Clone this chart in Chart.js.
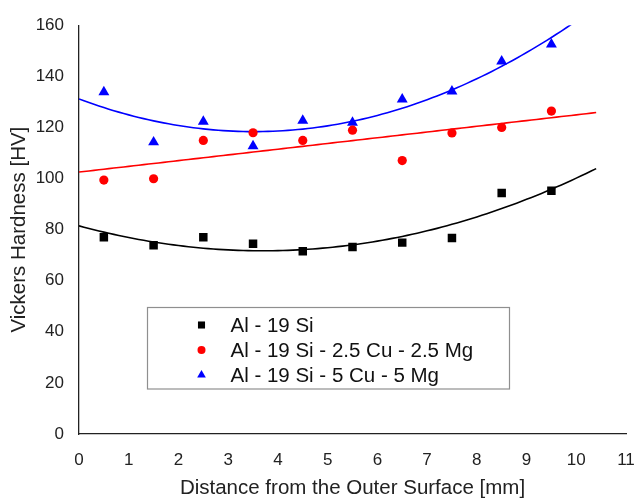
<!DOCTYPE html>
<html>
<head>
<meta charset="utf-8">
<title>Vickers Hardness</title>
<script src="https://cdn.jsdelivr.net/npm/chart.js@4.4.0/dist/chart.umd.min.js"></script>
<style>
  body { margin: 0; background: #fff; }
  #wrap { width: 635px; height: 502px; }
</style>
</head>
<body>
<div id="wrap"><canvas id="hardnessChart" width="635" height="502"></canvas></div>
<script>
// distance of each measurement from the outer surface (mm)
const distances = [0.5, 1.5, 2.5, 3.5, 4.5, 5.5, 6.5, 7.5, 8.5, 9.5];

const alloyNames = ["Al - 19 Si", "Al - 19 Si - 2.5 Cu - 2.5 Mg", "Al - 19 Si - 5 Cu - 5 Mg"];

// hardness readings (HV)
const hvAlSi = [77.0, 73.9, 77.0, 74.5, 71.5, 73.2, 74.9, 76.7, 94.3, 95.2];
const hvCuMg25 = [99.4, 99.9, 114.9, 117.9, 114.9, 118.9, 107.0, 117.8, 120.0, 126.4];
const hvCuMg5 = [133.8, 114.2, 122.3, 112.7, 122.7, 121.9, 131.0, 134.1, 145.9, 152.5];

const xTicks = [0, 1, 2, 3, 4, 5, 6, 7, 8, 9, 10, 11];
const yTicks = [0, 20, 40, 60, 80, 100, 120, 140, 160];

// least squares polynomial fit (degree 1 or 2), returns coefficients c0..cn
function polyFit(xs, ys, degree) {
  const n = degree + 1;
  const A = [];
  for (let r = 0; r < n; r++) {
    A.push([]);
    for (let c = 0; c <= n; c++) A[r].push(0);
  }
  xs.forEach((x, i) => {
    for (let r = 0; r < n; r++) {
      for (let c = 0; c < n; c++) A[r][c] += Math.pow(x, r + c);
      A[r][n] += ys[i] * Math.pow(x, r);
    }
  });
  // gaussian elimination
  for (let p = 0; p < n; p++) {
    for (let r = p + 1; r < n; r++) {
      const f = A[r][p] / A[p][p];
      for (let c = p; c <= n; c++) A[r][c] -= f * A[p][c];
    }
  }
  const coef = new Array(n).fill(0);
  for (let r = n - 1; r >= 0; r--) {
    let s = A[r][n];
    for (let c = r + 1; c < n; c++) s -= A[r][c] * coef[c];
    coef[r] = s / A[r][r];
  }
  return coef;
}

// sample the fitted curve across the trendline range
function trendPoints(ys, degree) {
  const coef = polyFit(distances, ys, degree);
  const pts = [];
  for (let x = 0; x <= 10.4001; x += 0.1) {
    let y = 0;
    coef.forEach((c, k) => { y += c * Math.pow(x, k); });
    pts.push({ x: x, y: y });
  }
  return pts;
}

const toXY = (ys) => ys.map((y, i) => ({ x: distances[i], y: y }));

const seriesColors = ["#000000", "#ff0000", "#0000ff"];
const seriesMarkers = ["rect", "circle", "triangle"];
const markerSizes = [6, 4.6, 6.3];

const fontFamily = "'Liberation Sans', Arial, sans-serif";
Chart.defaults.font.family = fontFamily;

// legend box drawn inside the plot area
const boxLegend = {
  id: "boxLegend",
  afterDraw(chart) {
    const ctx = chart.ctx;
    ctx.save();
    ctx.strokeStyle = "#8f8f8f";
    ctx.lineWidth = 1.2;
    ctx.strokeRect(147.5, 307.5, 362, 81.5);
    const rows = [325, 350, 375];
    alloyNames.forEach((name, i) => {
      ctx.fillStyle = seriesColors[i];
      ctx.strokeStyle = seriesColors[i];
      Chart.helpers.drawPoint(ctx, {
        pointStyle: seriesMarkers[i],
        radius: i === 1 ? 4 : 5,
        borderWidth: 0
      }, 201.5, rows[i]);
      ctx.fillStyle = "#111";
      ctx.font = "20.5px " + fontFamily;
      ctx.textBaseline = "middle";
      ctx.fillText(name, 230.5, rows[i] + 1);
    });
    ctx.restore();
  }
};

const datasets = [];
[hvAlSi, hvCuMg25, hvCuMg5].forEach((ys, i) => {
  datasets.push({
    type: "scatter",
    label: alloyNames[i],
    data: toXY(ys),
    pointStyle: seriesMarkers[i],
    pointRadius: markerSizes[i],
    pointHoverRadius: markerSizes[i],
    backgroundColor: seriesColors[i],
    borderColor: seriesColors[i],
    borderWidth: 0,
    order: 0
  });
});
// trendlines: quadratic for the two outer series, linear for the 2.5 Cu alloy
[[hvAlSi, 2], [hvCuMg25, 1], [hvCuMg5, 2]].forEach(([ys, deg], i) => {
  datasets.push({
    type: "line",
    label: alloyNames[i] + " trend",
    data: trendPoints(ys, deg),
    borderColor: seriesColors[i],
    borderWidth: 1.6,
    pointRadius: 0,
    tension: 0,
    fill: false,
    order: 1
  });
});

new Chart(document.getElementById("hardnessChart"), {
  data: { datasets: datasets },
  options: {
    responsive: false,
    animation: false,
    layout: { padding: { top: 16, right: 9, left: 0, bottom: 0 } },
    plugins: {
      legend: { display: false },
      tooltip: { enabled: false }
    },
    scales: {
      x: {
        type: "linear",
        min: 0,
        max: 11,
        afterBuildTicks: (scale) => { scale.ticks = xTicks.map(v => ({ value: v })); },
        afterFit: (scale) => {
          scale.height = 68;
          scale.paddingLeft = 0;
          scale.paddingRight = 0;
        },
        grid: { display: false, drawTicks: false },
        border: { display: true, color: "#222", width: 1.3 },
        ticks: { color: "#222", padding: 16, font: { size: 17 } },
        title: {
          display: true,
          text: "Distance from the Outer Surface [mm]",
          color: "#222",
          font: { size: 20.5 },
          padding: { top: 0, bottom: 1 }
        }
      },
      y: {
        type: "linear",
        min: 0,
        max: 160,
        afterBuildTicks: (scale) => { scale.ticks = yTicks.map(v => ({ value: v })); },
        afterFit: (scale) => { scale.width = 79; },
        grid: { display: false, drawTicks: false },
        border: { display: true, color: "#222", width: 1.3 },
        ticks: { color: "#222", padding: 15, font: { size: 17 } },
        title: {
          display: true,
          text: "Vickers Hardness [HV]",
          color: "#222",
          font: { size: 20.5 },
          padding: { top: 7, bottom: 0 }
        }
      }
    }
  },
  plugins: [boxLegend]
});
</script>
</body>
</html>
